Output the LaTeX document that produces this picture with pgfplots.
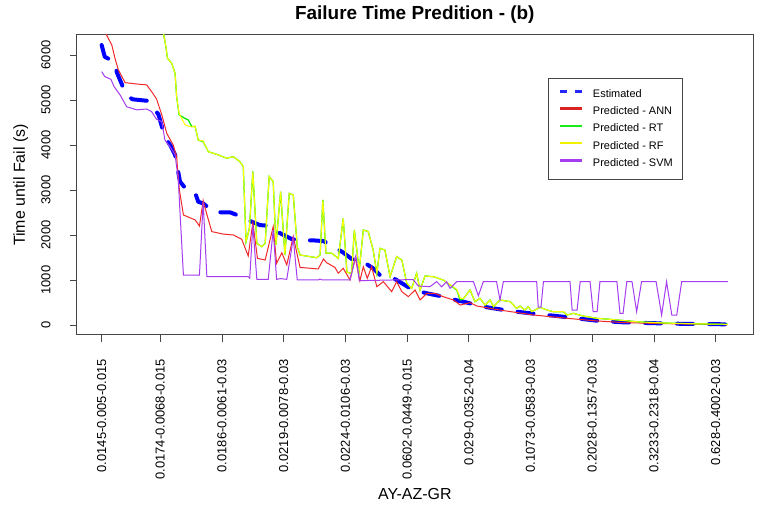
\documentclass[border=0pt]{standalone}
\usepackage{pgfplots}
\pgfplotsset{compat=1.18}
\usepackage{fontspec}
\setmainfont{Liberation Sans}
\definecolor{cEst}{RGB}{0,0,255}
\definecolor{cANN}{RGB}{242,40,40}
\definecolor{cRT}{RGB}{0,235,0}
\definecolor{cRF}{RGB}{255,255,0}
\definecolor{cSVM}{RGB}{165,60,240}
\definecolor{cBox}{RGB}{70,70,70}

\pgfplotstableread{
x y
1 6220
2 5960
5 5850
6 5600
9 5110
11 5015
16 4980
17.5 4850
19.4 4680
21.5 4170
23.2 4000
24.8 3780
25.5 3520
26.4 3185
28.6 3000
31.3 2940
32.3 2740
33.9 2700
37.2 2520
39.4 2505
42.6 2505
44.8 2445
46.9 2370
49.1 2310
52.3 2220
55 2205
56.6 2125
58.8 2040
62.6 1910
65.3 1880
69.6 1880
72.9 1865
76.1 1740
79.3 1610
82 1470
84.2 1410
85.8 1400
89 1260
91.2 1110
94.5 1075
96.6 1000
101 815
104.2 740
107.4 690
111.7 630
116.6 540
118.2 519
124.7 407
130.1 348
135.5 296
142 244
148.5 200
155 148
161.5 96
170 60
180 40
190 25
204 15
}\estimated

\pgfplotstableread{
x y
1 6650
4.3 6220
5.3 5930
6.4 5670
8.6 5385
12.4 5355
15.6 5335
16.4 5260
17.2 5185
18.8 5020
20.5 4670
22.1 4260
24.2 4000
25.3 3740
25.8 3300
26.2 3000
27.5 2445
31.3 2335
32.7 2200
33.9 2765
35 2480
36.7 2075
40.4 2020
43.7 2000
46.4 1905
48.5 1535
50 2275
51.5 1480
54 1445
56.6 2185
57.7 1370
59.4 1605
61 1335
63.1 1965
65.3 1280
71.2 1245
72.9 1465
73.9 1385
76.6 1280
77.7 1150
79.3 1260
81.5 1000
83.2 1500
84.7 980
85.8 1296
87.1 1037
88.5 1296
90.2 852
92.3 963
95 741
96.6 963
98.3 741
100.4 630
102.6 778
104.2 556
106.4 704
109 704
111.7 630
115 556
117.2 444
120.4 496
122.6 422
130 333
141 222
152 148
161.5 90
170 55
180 35
190 22
204 10
}\ann

\pgfplotstableread{
x y
1 8500
15 7000
21 6500
21.9 6150
22.3 5930
23.7 5815
24.8 5590
25.3 5075
26.1 4670
28 4590
29.1 4555
30.2 4410
31.3 4410
32.3 4110
33.9 4075
35.6 3850
38.8 3780
41.5 3705
43.7 3740
45.8 3630
46.9 3520
47.8 1850
48.9 2150
50 3410
51.3 1815
52.9 1740
54 1815
55.3 3300
56.6 3185
57.5 1780
59 2965
60.4 1555
61.8 2925
63.1 2890
64.4 1740
65.3 1555
70.7 1495
71.8 1555
72.7 2780
73.7 1595
75.6 1595
77.7 1480
79.3 2370
80.5 1170
82 1148
82.9 2111
84.5 1222
85.8 2111
87.4 2075
89 1667
90.2 1148
91.2 1704
92.8 1667
94.5 1074
96.6 1519
98.3 1444
99.9 926
101.5 815
103.1 1148
104.2 778
105.8 1089
108.5 1074
111.7 1000
113.9 889
116.1 778
117.2 556
118.2 580
120.4 778
122 519
123.6 593
125.3 444
126.9 556
128 407
130.1 556
133.4 519
135.5 370
136.6 422
138.2 333
139.3 407
140.4 296
143.1 393
145.3 333
147.4 296
150.7 296
151.8 222
153.9 259
157.1 200
161.5 148
165.8 126
175 70
185 40
195 25
204 15
}\rt

\pgfplotstableread{
x y
1 8500
15 7000
21 6500
21.9 6150
22.3 5930
23.7 5815
24.8 5590
25.3 5075
26.1 4700
28 4450
29.1 4420
30.2 4400
31.3 4420
32.3 4110
33.9 4090
35.6 3850
38.8 3780
41.5 3705
43.7 3740
45.8 3630
46.9 3520
47.8 1850
48.9 2150
50 3410
51.3 1815
52.9 1740
54 1815
55.3 3300
56.6 3185
57.5 1780
59 2965
60.4 1555
61.8 2925
63.1 2890
64.4 1740
65.3 1555
70.7 1495
71.8 1555
72.7 2780
73.7 1595
75.6 1595
77.7 1480
79.3 2370
80.5 1170
82 1148
82.9 2111
84.5 1222
85.8 2111
87.4 2075
89 1667
90.2 1148
91.2 1704
92.8 1667
94.5 1074
96.6 1519
98.3 1444
99.9 926
101.5 815
103.1 1148
104.2 778
105.8 1089
108.5 1074
111.7 1000
113.9 900
116.1 790
117.2 600
118.2 580
120.4 778
122 519
123.6 593
125.3 444
126.9 556
128 407
130.1 556
133.4 519
135.5 370
136.6 422
138.2 333
139.3 407
140.4 296
143.1 393
145.3 333
147.4 296
150.7 296
151.8 222
153.9 259
157.1 200
161.5 148
165.8 126
175 70
185 40
195 25
204 15
}\rf

\pgfplotstableread{
x y
1 5630
2 5520
4 5460
5 5300
7 5110
9.1 4850
12.4 4780
15.6 4800
17.2 4740
18.8 4570
20.5 4520
21.5 4110
23.2 3960
24.8 3780
25.8 3260
27.5 1110
32.7 1110
33.9 2740
35.1 1074
48.5 1074
49 1040
50 2222
51.3 1015
55 1015
56.6 2111
57.7 1015
59 1030
61 1015
63.1 1926
64.4 1000
71.2 1000
71.8 1022
72.5 1000
81.5 1000
83.4 1533
84.5 985
102 1010
103.6 867
107.4 852
109.6 963
111.2 850
112.8 963
113.9 815
116.1 963
121.5 963
123.1 650
124.7 963
129 963
130.1 556
131.2 963
142 963
142.5 400
143.4 400
144.2 963
152.8 963
153.5 333
155.1 333
156.1 963
159.3 963
160.3 296
161.6 296
162.5 963
168 963
169 259
170 259
171.2 963
172.9 963
174.4 296
176 963
180.7 963
182.5 222
184.1 963
185.8 222
187.4 222
189 963
204 963
}\svm

\begin{document}
\begin{tikzpicture}[x=1bp,y=1bp]
\path[use as bounding box] (0,0) rectangle (759,506);
\begin{axis}[
  at={(76.6bp,171bp)}, anchor=south west,
  scale only axis, width=676.4bp, height=300bp,
  xmin=-7.12, xmax=212.12, ymin=-222, ymax=6444,
  axis line style={cBox, line width=1bp},
  xtick={1,20,40,60,80,100,120,140,160,180,200},
  xticklabels={0.0145-0.005-0.015,0.0174-0.0068-0.015,0.0186-0.0061-0.03,0.0219-0.0078-0.03,0.0224-0.0106-0.03,0.0602-0.0449-0.015,0.029-0.0352-0.04,0.1073-0.0583-0.03,0.2028-0.1357-0.03,0.3233-0.2318-0.04,0.628-0.4002-0.03},
  ytick={0,1000,2000,3000,4000,5000,6000},
  xtick pos=left, ytick pos=left,
  tick align=outside, major tick length=7bp,
  tick style={cBox, line width=0.8bp},
  /pgf/number format/assume math mode=true,
  /pgf/number format/1000 sep={},
  x tick label style={yshift=-17bp, rotate=90, anchor=east, inner sep=0pt, font=\fontsize{13}{13}\selectfont},
  y tick label style={xshift=-19bp, rotate=90, anchor=south, inner sep=0pt, font=\fontsize{13}{13}\selectfont},
  title={\textbf{Failure Time Predition - (b)}},
  title style={at={(0.5,1.0333)}, anchor=base, inner sep=0pt, font=\fontsize{19}{19}\selectfont},
  xlabel={AY-AZ-GR},
  xlabel style={at={(0.5,-0.5467)}, anchor=base, inner sep=0pt, font=\fontsize{16}{16}\selectfont},
  ylabel={Time until Fail (s)},
  ylabel style={at={(-0.0763,0.5)}, anchor=base, inner sep=0pt, font=\fontsize{16}{16}\selectfont},
  legend style={at={(0.697,0.857)}, anchor=north west, draw=cBox, line width=0.8bp,
    font=\fontsize{11}{11}\selectfont, inner xsep=10bp, inner ysep=11bp,
    row sep=7.3bp, column sep=10bp,
    nodes={inner sep=0pt, text height=8bp, text depth=2bp}},
  legend cell align=left,
  legend image code/.code={\draw[#1] (0bp,3bp) -- (22bp,3bp);},
]
\addplot[cEst, line width=4bp, dash pattern=on 16bp off 16bp, line cap=round, line join=round, forget plot] table {\estimated};
\addplot[cANN, line width=1bp, forget plot] table {\ann};
\addplot[cRT, line width=1.25bp, forget plot] table {\rt};
\addplot[cRF, line width=1bp, forget plot] table {\rf};
\addplot[cSVM, line width=1bp, forget plot] table {\svm};
\addlegendimage{cEst!85, line width=2.5bp, dash pattern=on 7.5bp off 7.5bp}
\addlegendentry{Estimated}
\addlegendimage{cANN!90!black, line width=2.5bp}
\addlegendentry{Predicted - ANN}
\addlegendimage{cRT!90!white, line width=2.5bp}
\addlegendentry{Predicted - RT}
\addlegendimage{cRF!95!black, line width=2.5bp}
\addlegendentry{Predicted - RF}
\addlegendimage{cSVM, line width=2.5bp}
\addlegendentry{Predicted - SVM}
\end{axis}
\end{tikzpicture}
\end{document}
